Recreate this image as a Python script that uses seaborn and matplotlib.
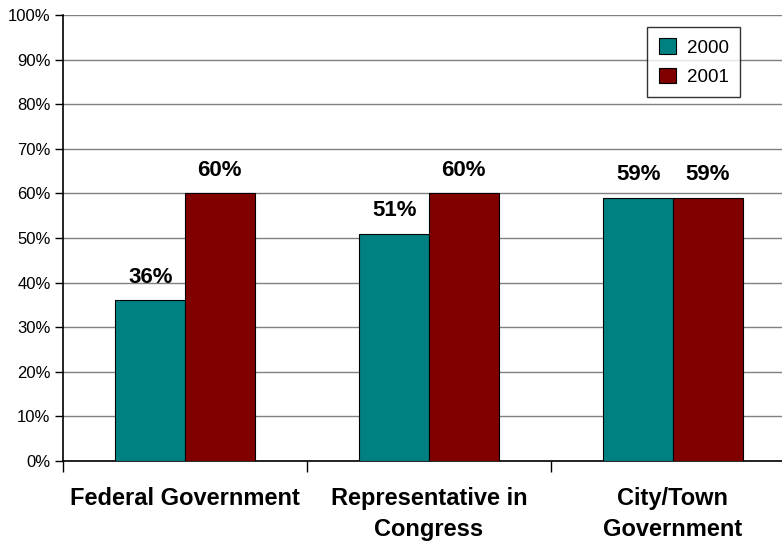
import numpy as np
import pandas as pd
import matplotlib
matplotlib.use("Agg")
import matplotlib.pyplot as plt
import seaborn as sns

# data
categories = ["Federal Government", "Representative in\nCongress", "City/Town\nGovernment"]
years = ["2000", "2001"]
vals_2000 = [36, 51, 59]
vals_2001 = [60, 60, 59]

dfrm = pd.DataFrame({
    "category": categories * 2,
    "year": [years[0]] * 3 + [years[1]] * 3,
    "value": vals_2000 + vals_2001,
})

sns.set_style("white")
plt.rcParams['font.family'] = ['Liberation Sans', 'DejaVu Sans']
plt.rcParams['text.color'] = 'black'
plt.rcParams['xtick.color'] = 'black'
plt.rcParams['ytick.color'] = 'black'

fig = plt.figure(figsize=(7.82, 5.43), dpi=100)
ax = fig.add_axes([63 / 782, 82 / 543, 732 / 782, 446 / 543])

sns.barplot(data=dfrm, x="category", y="value", hue="year",
            palette=["#008080", "#800000"], saturation=1, width=0.57,
            edgecolor="black", linewidth=0.8, ax=ax, zorder=3)

# value labels on top of bars
for cont in ax.containers:
    ax.bar_label(cont, labels=[f"{v:.0f}%" for v in cont.datavalues],
                 padding=9, fontsize=16, fontweight="bold", color="black")

ax.set_ylim(0, 100)
ax.set_xlim(-0.5, 2.5)
ax.set_yticks(np.arange(0, 101, 10))
ax.set_yticklabels([f"{t}%" for t in range(0, 101, 10)], fontsize=12)
ax.yaxis.grid(True, color="#808080", linewidth=1.0, zorder=0)
ax.tick_params(axis="y", length=6, width=1, left=True, pad=3)

#tick marks between the groups, labels centred without marks
ax.set_xticks([-0.5, 0.5, 1.5, 2.5], minor=True)
ax.tick_params(axis="x", which="minor", length=8, width=1, bottom=True)
ax.tick_params(axis="x", which="major", length=0, pad=19, labelsize=17)
for lbl in ax.get_xticklabels():
    lbl.set_fontweight("bold")
    lbl.set_linespacing(1.45)
    lbl.set_verticalalignment("top")

ax.set_xlabel("")
ax.set_ylabel("")
for side in ["top", "right"]:
    ax.spines[side].set_visible(False)
for side in ["left", "bottom"]:
    ax.spines[side].set_color("black")
    ax.spines[side].set_linewidth(1.2)

leg = ax.legend(loc="upper right", bbox_to_anchor=(0.925, 0.973), borderaxespad=0,
                fontsize=13.5, frameon=True, fancybox=False, handlelength=0.9,
                handleheight=0.9, handletextpad=0.6, labelspacing=0.6,
                borderpad=0.6)
leg.get_frame().set_edgecolor("black")
leg.get_frame().set_linewidth(1.0)

fig.savefig("out.png", dpi=100)
